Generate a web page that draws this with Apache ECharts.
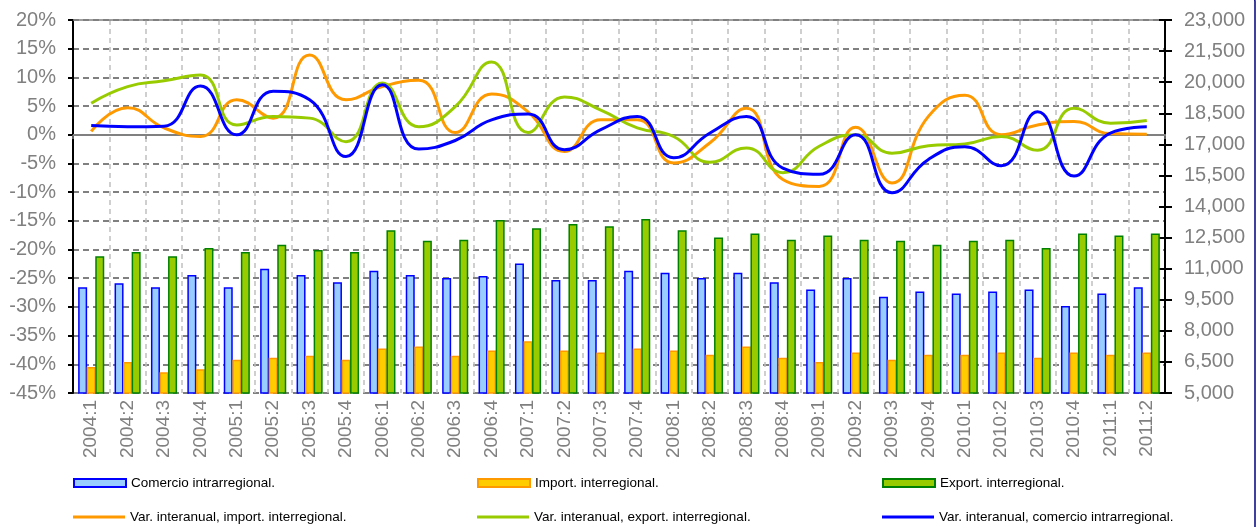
<!DOCTYPE html>
<html>
<head>
<meta charset="utf-8">
<script src="https://cdn.jsdelivr.net/npm/echarts@6/dist/echarts.min.js"></script>
<style>
html, body { margin: 0; padding: 0; background: #fff; }
#main { width: 1258px; height: 527px; }
</style>
</head>
<body>
<div id="main"></div>
<script>
var chart = echarts.init(document.getElementById('main'));

// trimestres
var categories = ['2004:1','2004:2','2004:3','2004:4','2005:1','2005:2','2005:3','2005:4',
    '2006:1','2006:2','2006:3','2006:4','2007:1','2007:2','2007:3','2007:4',
    '2008:1','2008:2','2008:3','2008:4','2009:1','2009:2','2009:3','2009:4',
    '2010:1','2010:2','2010:3','2010:4','2011:1','2011:2'];

// barras (eje derecho)
var comercio = [10100, 10300, 10100, 10700, 10100, 11000, 10700, 10350, 10900, 10700,
    10550, 10650, 11250, 10450, 10450, 10900, 10800, 10550, 10800, 10350,
    10000, 10550, 9650, 9900, 9800, 9900, 10000, 9200, 9800, 10100];
var importI = [6250, 6500, 6000, 6150, 6600, 6700, 6800, 6600, 7150, 7250,
    6800, 7050, 7500, 7050, 6950, 7150, 7050, 6850, 7250, 6700,
    6500, 6950, 6600, 6850, 6850, 6950, 6700, 6950, 6850, 6950];
var exportI = [11600, 11800, 11600, 12000, 11800, 12150, 11900, 11800, 12850, 12350,
    12400, 13350, 12950, 13150, 13050, 13400, 12850, 12500, 12700, 12400,
    12600, 12400, 12350, 12150, 12350, 12400, 12000, 12700, 12600, 12700];

// variaciones interanuales en % (eje izquierdo)
var varImport = [0.6, 4.7, 1.2, -0.3, 6.1, 2.9, 13.9, 6.1, 8.4, 9.5,
    0.4, 7.1, 4.0, -2.9, 2.6, 2.6, -4.9, -1.4, 4.6, -7.8,
    -9.0, 1.3, -8.4, 3.2, 6.9, 0.0, 1.7, 2.3, 0.2, 0.1];
var varExport = [5.5, 8.4, 9.4, 10.4, 1.7, 3.2, 2.9, -1.2, 9.0, 1.4,
    4.9, 12.7, 0.4, 6.6, 4.3, 1.2, -0.3, -4.8, -2.3, -6.6,
    -2.0, 0.0, -3.2, -1.9, -1.6, -0.3, -2.7, 4.6, 2.0, 2.5];
var varComercio = [1.6, 1.4, 1.5, 8.5, 0.0, 7.6, 6.1, -3.8, 8.7, -2.5,
    -1.0, 2.6, 3.6, -2.6, 0.9, 3.2, -4.0, 0.3, 3.2, -5.8,
    -6.9, 0.0, -10.1, -4.3, -2.1, -5.4, 4.0, -7.2, 0.3, 1.4];

// marcas del eje derecho
var rightTicks = [5000, 6500, 8000, 9500, 11000, 12500, 14000, 15500, 17000, 18500, 20000, 21500, 23000];

var FONT = 'Liberation Sans, Arial, sans-serif';
var GREY = '#808080';

function legendAt(name, left, top, isLine) {
    return {
        data: [{ name: name, icon: 'rect' }],
        left: left,
        top: top,
        padding: 0,
        itemWidth: 52,
        itemHeight: isLine ? 3 : 8,
        selectedMode: false,
        textStyle: { color: '#000', fontSize: 13.5, fontFamily: FONT }
    };
}

function barSerie(name, data, fill, border) {
    return {
        name: name,
        type: 'bar',
        xAxisIndex: 0,
        yAxisIndex: 1,
        barWidth: 9,
        barGap: '-5%',
        itemStyle: { color: fill, borderColor: border, borderWidth: 1.5 },
        data: data
    };
}

function lineSerie(name, data, color) {
    return {
        name: name,
        type: 'line',
        xAxisIndex: 0,
        yAxisIndex: 0,
        smooth: 0.5,
        symbol: 'none',
        lineStyle: { color: color, width: 3 },
        itemStyle: { color: color },
        data: data
    };
}

var option = {
    animation: false,
    grid: { left: 73, right: 93, top: 20, bottom: 134 },
    graphic: [{
        type: 'rect',
        shape: { x: -20, y: -8, width: 1275, height: 560, r: 10 },
        style: { fill: 'none', stroke: '#000080', lineWidth: 1.5 },
        silent: true
    }],
    legend: [
        legendAt('Comercio intrarregional.', 73, 476, false),
        legendAt('Import. interregional.', 477, 476, false),
        legendAt('Export. interregional.', 882, 476, false),
        legendAt('Var. interanual, import. interregional.', 73, 510, true),
        legendAt('Var. interanual, export. interregional.', 477, 510, true),
        legendAt('Var. interanual, comercio intrarregional.', 882, 510, true)
    ],
    xAxis: [
        {
            type: 'category',
            position: 'bottom',
            data: categories,
            axisLine: { lineStyle: { color: GREY, width: 1.5 } },
            axisTick: { show: false },
            axisLabel: { interval: 0, rotate: 90, color: GREY, fontSize: 19, fontFamily: FONT, margin: 7 },
            splitLine: { show: true, interval: 0, lineStyle: { color: '#c0c0c0', type: [5, 4], width: 1.5 } }
        },
        {
            // linea del 0 %
            type: 'category',
            position: 'bottom',
            offset: -258,
            data: categories,
            axisLine: { lineStyle: { color: GREY, width: 2 } },
            axisTick: { show: true, interval: 1, length: 4, lineStyle: { color: GREY, width: 1.5 } },
            axisLabel: { show: false },
            splitLine: { show: false }
        },
        {
            type: 'category',
            position: 'top',
            data: categories,
            axisLine: { lineStyle: { color: GREY, width: 1.5 } },
            axisTick: { show: false },
            axisLabel: { show: false },
            splitLine: { show: false }
        }
    ],
    yAxis: [
        {
            type: 'value',
            position: 'left',
            min: -45,
            max: 20,
            interval: 5,
            axisLine: { show: true, lineStyle: { color: '#000', width: 2 } },
            axisTick: { show: true, length: 5, lineStyle: { color: '#000', width: 2 } },
            axisLabel: { formatter: '{value}%', color: GREY, fontSize: 20, fontFamily: FONT, margin: 17 },
            splitLine: { show: true, lineStyle: { color: GREY, type: [6, 4], width: 2 } }
        },
        {
            type: 'value',
            position: 'right',
            min: 5000,
            max: 23000,
            axisLine: { show: true, lineStyle: { color: '#000', width: 2 } },
            axisTick: { show: true, length: 7, customValues: rightTicks, lineStyle: { color: '#000', width: 2 } },
            axisLabel: {
                customValues: rightTicks,
                color: GREY, fontSize: 20, fontFamily: FONT, margin: 19,
                formatter: function (v) { return v.toLocaleString('en-US'); }
            },
            splitLine: { show: false }
        },
        {
            // marcas hacia dentro del eje derecho
            type: 'value',
            position: 'right',
            min: 5000,
            max: 23000,
            axisLine: { show: false },
            axisTick: { show: true, inside: true, length: 6, customValues: rightTicks, lineStyle: { color: '#000', width: 2 } },
            axisLabel: { show: false },
            splitLine: { show: false }
        }
    ],
    series: [
        barSerie('Comercio intrarregional.', comercio, '#99CCFF', '#0000FF'),
        barSerie('Import. interregional.', importI, '#FFCC00', '#FF9900'),
        barSerie('Export. interregional.', exportI, '#99CC00', '#008000'),
        lineSerie('Var. interanual, import. interregional.', varImport, '#FF9900'),
        lineSerie('Var. interanual, export. interregional.', varExport, '#99CC00'),
        lineSerie('Var. interanual, comercio intrarregional.', varComercio, '#0000FF')
    ]
};

chart.setOption(option);
</script>
</body>
</html>
